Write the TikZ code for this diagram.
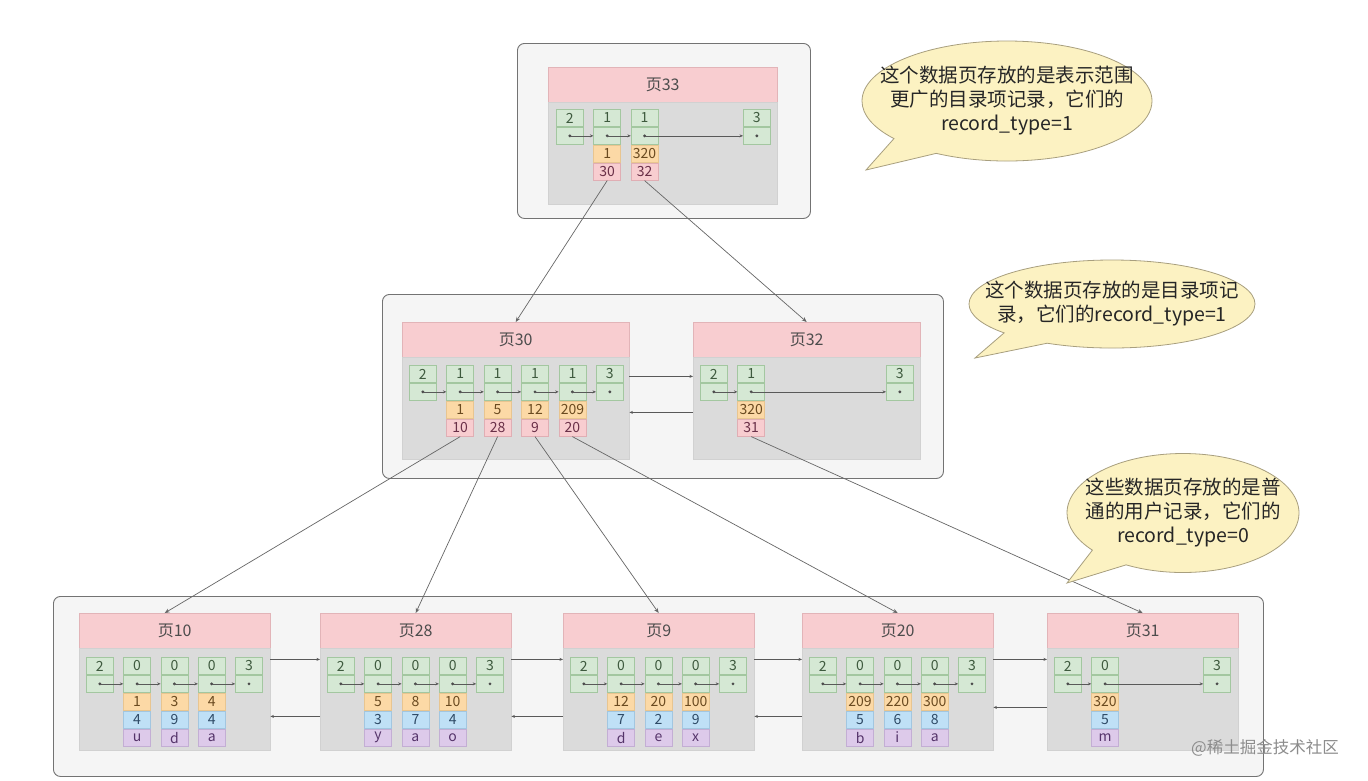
\documentclass[tikz,border=0pt]{standalone}
\usepackage{fontspec}
\setmainfont{Noto Sans CJK SC}
\usetikzlibrary{arrows.meta,shapes.callouts,shapes.geometric,calc}
\definecolor{hdrc}{HTML}{F8CDD0}
\definecolor{hdrb}{HTML}{E2B4B8}
\definecolor{greenc}{HTML}{D5E8D4}
\definecolor{greenb}{HTML}{A3C7A0}
\definecolor{greent}{HTML}{3E5A3E}
\definecolor{orangec}{HTML}{FCD9A6}
\definecolor{orangeb}{HTML}{E8C590}
\definecolor{oranget}{HTML}{6A4A20}
\definecolor{pinkc}{HTML}{F8CDD0}
\definecolor{pinkb}{HTML}{E0AEB4}
\definecolor{pinkt}{HTML}{6A3048}
\definecolor{bluec}{HTML}{BFE0F6}
\definecolor{blueb}{HTML}{A2C6E0}
\definecolor{bluet}{HTML}{2E4A66}
\definecolor{violc}{HTML}{DDCAEA}
\definecolor{violb}{HTML}{C3AED4}
\definecolor{violt}{HTML}{55346A}
\definecolor{bubc}{HTML}{FCF2C2}
\definecolor{bubb}{HTML}{A89F7E}
\newcommand\mkrec[4]{%
  \node[gcell,anchor=north west] (#1t) at (#2,#3) {#4};
  \node[gcell,anchor=north] (#1b) at (#1t.south) {};
  \fill[black!70] (#1b.center) circle (1.6pt);}
\newcommand\mkcell[4]{\node[#2,anchor=north] (#1) at (#3.south) {#4};}
\newcommand\mkdir[5]{\mkrec{#1}{#2}{#3}{1}\mkcell{#1o}{ocell}{#1b}{#4}\mkcell{#1p}{pcell}{#1o}{#5}}
\newcommand\mkleaf[6]{\mkrec{#1}{#2}{#3}{0}\mkcell{#1o}{ocell}{#1b}{#4}\mkcell{#1u}{bcell}{#1o}{#5}\mkcell{#1v}{vcell}{#1u}{#6}}
\newcommand\lk[2]{\draw[lnk] (#1b.center) -- (#2b.west);}
\newcommand\mkpage[5]{%
  \node[hdr,anchor=north west,minimum width=#4pt,minimum height=35pt] (#1h) at (#2,#3) {#5};
  \node[pbody,anchor=north,minimum width=#4pt,minimum height=102pt] (#1body) at (#1h.south) {};}
\tikzset{
  outer/.style={draw=black!55, fill=black!4, rounded corners=7pt, line width=0.9pt, inner sep=0},
  hdr/.style={draw=hdrb, fill=hdrc, inner sep=0, font=\fontsize{16}{18}\selectfont, text=black!70},
  pbody/.style={draw=black!18, fill=black!14, inner sep=0},
  cellbase/.style={minimum width=27pt, minimum height=17.3pt, inner sep=0, line width=0.6pt, font=\fontsize{14}{15}\selectfont},
  gcell/.style={cellbase, draw=greenb, fill=greenc, text=greent},
  ocell/.style={cellbase, draw=orangeb, fill=orangec, text=oranget},
  pcell/.style={cellbase, draw=pinkb, fill=pinkc, text=pinkt},
  bcell/.style={cellbase, draw=blueb, fill=bluec, text=bluet},
  vcell/.style={cellbase, draw=violb, fill=violc, text=violt},
  lnk/.style={draw=black!65, line width=0.6pt, -{Stealth[length=3.5pt,width=3pt]}},
  tree/.style={draw=black!60, line width=0.7pt, -{Stealth[length=5pt,width=4pt]}},
  bubble/.style={ellipse callout, draw=bubb, fill=bubc, line width=0.8pt, inner sep=0, callout pointer arc=22},
  btext/.style={align=center, font=\fontsize{19.5}{24}\selectfont, text=black!85},
}
\begin{document}
\begin{tikzpicture}[x=1pt,y=-1pt]
\useasboundingbox[fill=white] (0,0) rectangle (1368,780);
% outer boxes
\node[outer,anchor=north west,minimum width=293pt,minimum height=175pt] (o1) at (517,43) {};
\node[outer,anchor=north west,minimum width=561pt,minimum height=184pt] (o2) at (382,294) {};
\node[outer,anchor=north west,minimum width=1210pt,minimum height=180pt] (o3) at (53,596) {};
% page 33
\mkpage{p33}{548}{67}{229}{页33}
\mkrec{p33a}{556}{109}{2}
\mkdir{p33b}{593.4}{109}{1}{30}
\mkdir{p33c}{630.8}{109}{320}{32}
\mkrec{p33d}{743}{109}{3}
\lk{p33a}{p33b}\lk{p33b}{p33c}\lk{p33c}{p33d}
% page 30
\mkpage{p30}{402}{322}{227}{页30}
\mkrec{p30a}{409}{365}{2}
\mkdir{p30b}{446.4}{365}{1}{10}
\mkdir{p30c}{483.8}{365}{5}{28}
\mkdir{p30d}{521.2}{365}{12}{9}
\mkdir{p30e}{558.6}{365}{209}{20}
\mkrec{p30f}{596}{365}{3}
\lk{p30a}{p30b}\lk{p30b}{p30c}\lk{p30c}{p30d}\lk{p30d}{p30e}\lk{p30e}{p30f}
% page 32
\mkpage{p32}{693}{322}{227}{页32}
\mkrec{p32a}{700}{365}{2}
\mkdir{p32b}{737.4}{365}{320}{31}
\mkrec{p32c}{886}{365}{3}
\lk{p32a}{p32b}\lk{p32b}{p32c}
\draw[lnk] ($(p30body.north east)+(0,19)$) -- ($(p32body.north west)+(0,19)$);
\draw[lnk] ($(p32body.north west)+(0,55)$) -- ($(p30body.north east)+(0,55)$);
% page 10
\mkpage{p10}{79}{613}{191}{页10}
\mkrec{p10a}{86}{657}{2}
\mkleaf{p10b}{123.3}{657}{1}{4}{u}
\mkleaf{p10c}{160.6}{657}{3}{9}{d}
\mkleaf{p10d}{197.9}{657}{4}{4}{a}
\mkrec{p10e}{235.2}{657}{3}
\lk{p10a}{p10b}\lk{p10b}{p10c}\lk{p10c}{p10d}\lk{p10d}{p10e}
% page 28
\mkpage{p28}{320}{613}{191}{页28}
\mkrec{p28a}{327}{657}{2}
\mkleaf{p28b}{364.3}{657}{5}{3}{y}
\mkleaf{p28c}{401.6}{657}{8}{7}{a}
\mkleaf{p28d}{438.9}{657}{10}{4}{o}
\mkrec{p28e}{476.2}{657}{3}
\lk{p28a}{p28b}\lk{p28b}{p28c}\lk{p28c}{p28d}\lk{p28d}{p28e}
% page 9
\mkpage{p9}{563}{613}{191}{页9}
\mkrec{p9a}{570}{657}{2}
\mkleaf{p9b}{607.3}{657}{12}{7}{d}
\mkleaf{p9c}{644.6}{657}{20}{2}{e}
\mkleaf{p9d}{681.9}{657}{100}{9}{x}
\mkrec{p9e}{719.2}{657}{3}
\lk{p9a}{p9b}\lk{p9b}{p9c}\lk{p9c}{p9d}\lk{p9d}{p9e}
% page 20
\mkpage{p20}{802}{613}{191}{页20}
\mkrec{p20a}{809}{657}{2}
\mkleaf{p20b}{846.3}{657}{209}{5}{b}
\mkleaf{p20c}{883.6}{657}{220}{6}{i}
\mkleaf{p20d}{920.9}{657}{300}{8}{a}
\mkrec{p20e}{958.2}{657}{3}
\lk{p20a}{p20b}\lk{p20b}{p20c}\lk{p20c}{p20d}\lk{p20d}{p20e}
% page 31
\mkpage{p31}{1047}{613}{191}{页31}
\mkrec{p31a}{1054}{657}{2}
\mkleaf{p31b}{1091.3}{657}{320}{5}{m}
\mkrec{p31c}{1203.2}{657}{3}
\lk{p31a}{p31b}\lk{p31b}{p31c}
% sibling links, bottom level
\draw[lnk] ($(p10body.north east)+(0,11)$) -- ($(p28body.north west)+(0,11)$);
\draw[lnk] ($(p28body.north west)+(0,68)$) -- ($(p10body.north east)+(0,68)$);
\draw[lnk] ($(p28body.north east)+(0,11)$) -- ($(p9body.north west)+(0,11)$);
\draw[lnk] ($(p9body.north west)+(0,68)$) -- ($(p28body.north east)+(0,68)$);
\draw[lnk] ($(p9body.north east)+(0,11)$) -- ($(p20body.north west)+(0,11)$);
\draw[lnk] ($(p20body.north west)+(0,68)$) -- ($(p9body.north east)+(0,68)$);
\draw[lnk] ($(p20body.north east)+(0,11)$) -- ($(p31body.north west)+(0,11)$);
\draw[lnk] ($(p31body.north west)+(0,59)$) -- ($(p20body.north east)+(0,59)$);
% tree links
\draw[tree] (p33bp.south) -- (p30h.north);
\draw[tree] (p33cp.south) -- (p32h.north);
\draw[tree] (p30bp.south) -- ([xshift=-10pt]p10h.north);
\draw[tree] (p30cp.south) -- (p28h.north);
\draw[tree] (p30dp.south) -- (p9h.north);
\draw[tree] (p30ep.south) -- (p20h.north);
\draw[tree] (p32bp.south) -- (p31h.north);
% callouts
\node[bubble,minimum width=290pt,minimum height=120pt,callout absolute pointer={(866,170)}] (c1) at (1007,101) {};
\node[btext] (c1t) at (c1.center) {这个数据页存放的是表示范围\\更广的目录项记录，它们的\\record\_type=1};
\node[bubble,minimum width=286pt,minimum height=88pt,callout absolute pointer={(975,358)}] (c2) at (1112,304) {};
\node[btext] (c2t) at (c2.center) {这个数据页存放的是目录项记\\录，它们的record\_type=1};
\node[bubble,minimum width=232pt,minimum height=119pt,callout absolute pointer={(1067,583)}] (c3) at (1183,513) {};
\node[btext] (c3t) at (c3.center) {这些数据页存放的是普\\通的用户记录，它们的\\record\_type=0};
% watermark
\node[text=black!45,font=\fontsize{16.5}{18}\selectfont] (wm) at (1265,748) {@稀土掘金技术社区};
\end{tikzpicture}
\end{document}
